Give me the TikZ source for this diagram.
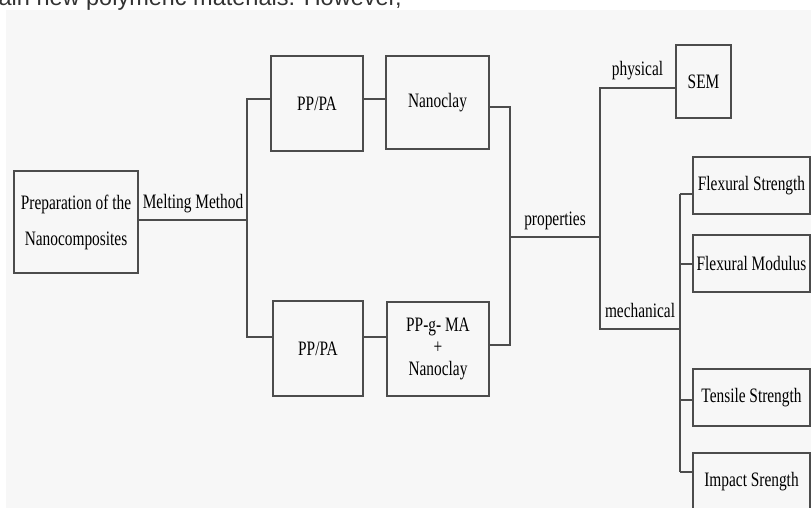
\documentclass[tikz,border=0pt]{standalone}
\usepackage{fontspec}
\newfontfamily\boxfont{Liberation Serif}[FakeStretch=0.75]
\newfontfamily\pagefont{Liberation Sans}
\tikzset{
	box/.style={draw=black!70, line width=2pt, align=center, inner sep=0pt},
	link/.style={draw=black!70, line width=2pt},
	lbl/.style={anchor=base, yshift=12pt, inner sep=0pt},
}

\begin{document}
\begin{tikzpicture}[x=1pt, y=-1pt, font=\boxfont\fontsize{20.5}{22}\selectfont, text=black]
		%%%%% START %%%%%
		\useasboundingbox (0,0) rectangle (811,508);
		\clip (0,0) rectangle (811,508);
		
		\node[anchor=base east, inner sep=0pt, font=\pagefont\fontsize{23.5}{24}\selectfont, text=black!80] (pagetext) at (402,6) {tain new polymeric materials. However,};
		\fill[black!3] (6,10) rectangle (811,508);
		
		\node[box, minimum width=124pt, minimum height=102pt] (prep) at (76,222) {Preparation of the\\[14pt]Nanocomposites};
		
		\node[box, minimum width=92pt, minimum height=95pt] (pptop) at (317,103.5) {PP/PA};
		\node[box, minimum width=103pt, minimum height=93pt] (nanoclay) at (437.5,102.5) {Nanoclay};
		\node[box, minimum width=90pt, minimum height=95pt] (ppbot) at (318,348.5) {PP/PA};
		\node[box, minimum width=102pt, minimum height=94pt] (ppgma) at (438,349) {PP-g- MA\\+\\Nanoclay};
		
		\node[box, minimum width=55pt, minimum height=73pt] (sem) at (703.5,81.5) {SEM};
		\node[box, minimum width=117pt, minimum height=57pt] (flexstr) at (751.5,185.5) {Flexural Strength};
		\node[box, minimum width=117pt, minimum height=57pt] (flexmod) at (751.5,263.5) {Flexural Modulus};
		\node[box, minimum width=117pt, minimum height=57pt] (tensile) at (751.5,397.5) {Tensile Strength};
		\node[box, minimum width=117pt, minimum height=58pt] (impact) at (751.5,482) {Impact Srength};
		
		\coordinate (m0) at (247,220);
		\coordinate (m1) at (247,99);
		\coordinate (m2) at (247,337);
		\draw[link] (prep.east |- m0) -- node[lbl] (melting) {Melting Method} (m0);
		\draw[link] (pptop.west |- m1) -- (m1) -- (m2) -- (ppbot.west |- m2);
		\draw[link] (pptop.east |- m1) -- (nanoclay.west |- m1);
		\draw[link] (ppbot.east |- m2) -- (ppgma.west |- m2);
		
		\coordinate (p0) at (510,237);
		\coordinate (p1) at (510,107);
		\coordinate (p2) at (510,345);
		\draw[link] (nanoclay.east |- p1) -- (p1) -- (p2) -- (ppgma.east |- p2);
		
		\coordinate (q0) at (600,237);
		\coordinate (q1) at (600,88);
		\coordinate (q2) at (600,329);
		\coordinate (r0) at (680,329);
		\draw[link] (p0) -- node[lbl] (props) {properties} (q0);
		\draw[link] (sem.west |- q1) -- node[lbl] (phys) {physical} (q1) -- (q2) -- node[lbl] (mech) {mechanical} (r0);
		
		\coordinate (r1) at (680,194);
		\coordinate (r2) at (680,264);
		\coordinate (r3) at (680,400);
		\coordinate (r4) at (680,472);
		\draw[link] (r1) -- (r4);
		\foreach \j/\b in {r1/flexstr, r2/flexmod, r3/tensile, r4/impact}
			\draw[link] (\j) -- (\j -| \b.west);
		
		%%%%% END %%%%%
\end{tikzpicture}
\end{document}
